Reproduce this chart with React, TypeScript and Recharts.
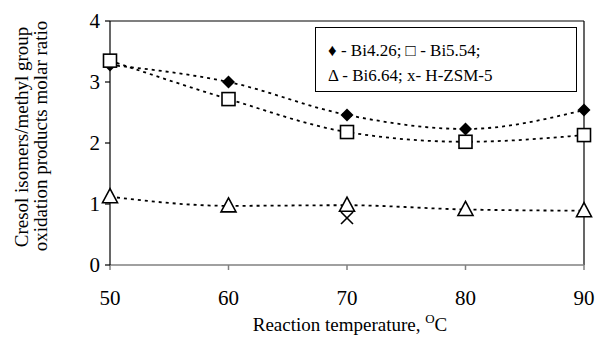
import React from "react";
import { LineChart, Line, XAxis, YAxis, ReferenceLine, Legend, Label } from "recharts";

const temperatures = [50, 60, 70, 80, 90];
const bi426 = [3.28, 3.0, 2.46, 2.23, 2.54];
const bi554 = [3.35, 2.72, 2.18, 2.02, 2.13];
const bi664 = [1.12, 0.97, 0.98, 0.91, 0.89];
const hzsm5: (number | null)[] = [null, null, 0.77, null, null];
const xTicks = [50, 60, 70, 80, 90];
const yTicks = [0, 1, 2, 3, 4];

const data = temperatures.map((t, i) => ({
  t,
  bi426: bi426[i],
  bi554: bi554[i],
  bi664: bi664[i],
  hzsm5: hzsm5[i],
}));

const FONT = "Liberation Serif";

const Diamond = (p: any) => {
  const { cx, cy } = p;
  if (cx == null || cy == null) return null;
  return <path d={`M${cx},${cy - 6.5} L${cx + 6.5},${cy} L${cx},${cy + 6.5} L${cx - 6.5},${cy} Z`} fill="#000" />;
};
const Square = (p: any) => {
  const { cx, cy } = p;
  if (cx == null || cy == null) return null;
  return <rect x={cx - 6.5} y={cy - 6.5} width={13} height={13} fill="#fff" stroke="#000" strokeWidth={1.6} />;
};
const Triangle = (p: any) => {
  const { cx, cy } = p;
  if (cx == null || cy == null) return null;
  return (
    <path d={`M${cx},${cy - 8} L${cx + 7.5},${cy + 6} L${cx - 7.5},${cy + 6} Z`} fill="#fff" stroke="#000" strokeWidth={1.6} />
  );
};
const Cross = (p: any) => {
  const { cx, cy } = p;
  if (cx == null || cy == null || p.value == null) return null;
  return (
    <g stroke="#000" strokeWidth={1.6}>
      <line x1={cx - 6} y1={cy - 6} x2={cx + 6} y2={cy + 6} />
      <line x1={cx - 6} y1={cy + 6} x2={cx + 6} y2={cy - 6} />
    </g>
  );
};

const XTick = (p: any) => (
  <text x={p.x} y={p.y} dy={15} textAnchor="middle" fontFamily={FONT} fontSize={21} fill="#000">
    {p.payload.value}
  </text>
);
const YTick = (p: any) => (
  <text x={p.x} y={p.y} dy={7} textAnchor="end" fontFamily={FONT} fontSize={21} fill="#000">
    {p.payload.value}
  </text>
);

const LegendBox = () => (
  <div
    style={{
      border: "1px solid #000",
      boxSizing: "border-box",
      width: 262,
      height: 65,
      fontFamily: FONT,
      fontSize: 17,
      color: "#000",
      padding: "10px 0 0 12px",
      lineHeight: "25px",
      background: "#fff",
      textAlign: "left",
    }}
  >
    <div>♦ - Bi4.26; □ - Bi5.54;</div>
    <div>Δ - Bi6.64; x- H-ZSM-5</div>
  </div>
);

const YLabel = () => (
  <g fontFamily={FONT} fontSize={19} fill="#000">
    <text x={0} y={0} transform="translate(28,137) rotate(-90)" textAnchor="middle">
      Cresol isomers/methyl group
    </text>
    <text x={0} y={0} transform="translate(47,136) rotate(-90)" textAnchor="middle">
      oxidation products molar ratio
    </text>
  </g>
);

const XLabel = () => (
  <text x={350} y={331} textAnchor="middle" fontFamily={FONT} fontSize={19} fill="#000">
    Reaction temperature, <tspan fontSize={13} dy={-8}>O</tspan>
    <tspan dy={8}>C</tspan>
  </text>
);

const dash = "3 4";

export default function App() {
  return (
    <div style={{ position: "absolute", left: 0, top: 0, width: 598, height: 338, background: "#fff" }}>
      <LineChart width={598} height={338} data={data} margin={{ top: 21, right: 14, left: 0, bottom: 0 }}>
        <XAxis
          dataKey="t"
          type="number"
          domain={[50, 90]}
          ticks={xTicks}
          height={73}
          axisLine={{ stroke: "#808080", strokeWidth: 1.5 }}
          tickLine={{ stroke: "#808080", strokeWidth: 1.5 }}
          tickSize={5}
          tickMargin={20}
          tick={<XTick />}
        >
          <Label content={() => <XLabel />} />
        </XAxis>
        <YAxis
          type="number"
          domain={[0, 4]}
          ticks={yTicks}
          width={110}
          axisLine={{ stroke: "#000", strokeWidth: 1.2 }}
          tickLine={{ stroke: "#000", strokeWidth: 1.2 }}
          tickSize={5}
          tickMargin={5}
          tick={<YTick />}
        >
          <Label content={() => <YLabel />} />
        </YAxis>
        <ReferenceLine y={4} stroke="#000" strokeWidth={1.2} />
        <ReferenceLine x={90} stroke="#000" strokeWidth={1.2} />
        <Legend
          layout="horizontal"
          verticalAlign="middle"
          align="center"
          content={() => <LegendBox />}
          wrapperStyle={{ position: "absolute", left: 315, top: 27, width: 262, height: 65 }}
        />
        <Line dataKey="bi426" type="monotone" stroke="#000" strokeWidth={1.8} strokeDasharray={dash} dot={<Diamond />} isAnimationActive={false} />
        <Line dataKey="bi554" type="monotone" stroke="#000" strokeWidth={1.8} strokeDasharray={dash} dot={<Square />} isAnimationActive={false} />
        <Line dataKey="bi664" type="monotone" stroke="#000" strokeWidth={1.8} strokeDasharray={dash} dot={<Triangle />} isAnimationActive={false} />
        <Line dataKey="hzsm5" type="monotone" stroke="none" dot={<Cross />} isAnimationActive={false} />
      </LineChart>
    </div>
  );
}
